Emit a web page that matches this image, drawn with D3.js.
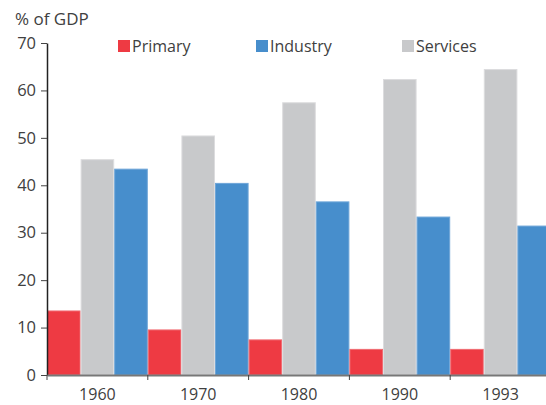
<!DOCTYPE html>
<html>
<head>
<meta charset="utf-8">
<script src="https://cdn.jsdelivr.net/npm/d3@7"></script>
<style>
  body { margin: 0; background: #fff; }
  svg text { font-family: "Open Sans", "Noto Sans", sans-serif; fill: #404040; }
</style>
</head>
<body>
<div id="chart"></div>
<script>
const years = ["1960", "1970", "1980", "1990", "1993"]
const primary = [13.5, 9.5, 7.4, 5.4, 5.4]
const services = [45.4, 50.4, 57.4, 62.3, 64.4]
const industry = [43.4, 40.4, 36.5, 33.3, 31.4]
const yTicks = [0, 10, 20, 30, 40, 50, 60, 70]

const seriesKeys = ["primary", "services", "industry"]
const legendKeys = ["primary", "industry", "services"]
const labels = { primary: "Primary", industry: "Industry", services: "Services" }

const width = 546, height = 405
const margin = { top: 43, right: -5, bottom: 30, left: 47 }

const color = d3.scaleOrdinal()
    .domain(seriesKeys)
    .range(["#ee3a43", "#c8c9cb", "#478ecc"])
const edge = { primary: "#f06b72", services: "#dcdcde", industry: "#6fa6d8" }

const svg = d3.select("#chart").append("svg")
    .attr("width", width)
    .attr("height", height)

const x0 = d3.scaleBand().domain(years)
    .range([margin.left, width - margin.right]).padding(0)
const x1 = d3.scaleBand().domain(seriesKeys).range([0, x0.bandwidth()]).padding(0)
const y = d3.scaleLinear().domain([0, 70]).range([height - margin.bottom, margin.top])

const data = years.map((yr, i) => ({ year: yr, primary: primary[i], services: services[i], industry: industry[i] }))

const groups = svg.selectAll(".year")
    .data(data)
    .enter().append("g")
    .attr("class", "year")
    .attr("transform", d => `translate(${x0(d.year)},0)`)

groups.selectAll("rect")
    .data(d => seriesKeys.map(k => ({ key: k, value: d[k] })))
    .enter().append("rect")
    .attr("x", d => x1(d.key) + 0.5)
    .attr("y", d => y(d.value))
    .attr("width", x1.bandwidth() - 1)
    .attr("height", d => y(0) - y(d.value))
    .attr("fill", d => color(d.key))
    .attr("stroke", d => edge[d.key])
    .attr("stroke-width", 1)

// y axis
const yAxis = svg.append("g")
    .attr("transform", `translate(${margin.left},0)`)
    .call(d3.axisLeft(y).tickValues(yTicks).tickSize(6).tickSizeOuter(0))
yAxis.select(".domain").attr("stroke", "#222").attr("stroke-width", 1.5)
yAxis.selectAll(".tick line").attr("stroke", "#444")
yAxis.selectAll(".tick text")
    .attr("x", -11)
    .style("font-size", "16.5px")
    .style("font-family", "'Open Sans', sans-serif")
    .style("fill", "#404040")

// x axis
const xAxis = svg.append("g")
    .attr("transform", `translate(0,${y(0)})`)
    .call(d3.axisBottom(x0).tickSize(0).tickSizeOuter(0))
xAxis.select(".domain").attr("stroke", "#777").attr("stroke-width", 2)
xAxis.selectAll(".tick text")
    .attr("y", 25)
    .attr("dy", 0)
    .style("font-size", "16px")
    .style("font-family", "'Open Sans', sans-serif")
    .style("fill", "#404040")

// boundary ticks between year groups
svg.append("g").selectAll("line")
    .data(years.slice(1))
    .enter().append("line")
    .attr("x1", d => x0(d))
    .attr("x2", d => x0(d))
    .attr("y1", y(0))
    .attr("y2", y(0) + 5)
    .attr("stroke", "#444")
svg.append("line")
    .attr("x1", margin.left).attr("x2", margin.left)
    .attr("y1", y(0)).attr("y2", y(0) + 5)
    .attr("stroke", "#444")

// y title
svg.append("text")
    .attr("x", 15)
    .attr("y", 25)
    .style("font-size", "17px")
    .text("% of GDP")

// legend
const legendX = { primary: 118, industry: 256, services: 402 }
const legend = svg.selectAll(".legend")
    .data(legendKeys)
    .enter().append("g")
    .attr("class", "legend")
    .attr("transform", d => `translate(${legendX[d]},40)`)
legend.append("rect")
    .attr("width", 12).attr("height", 12)
    .attr("fill", d => color(d))
legend.append("text")
    .attr("x", 14)
    .attr("y", 12)
    .style("font-size", "16px")
    .text(d => labels[d])
</script>
</body>
</html>
